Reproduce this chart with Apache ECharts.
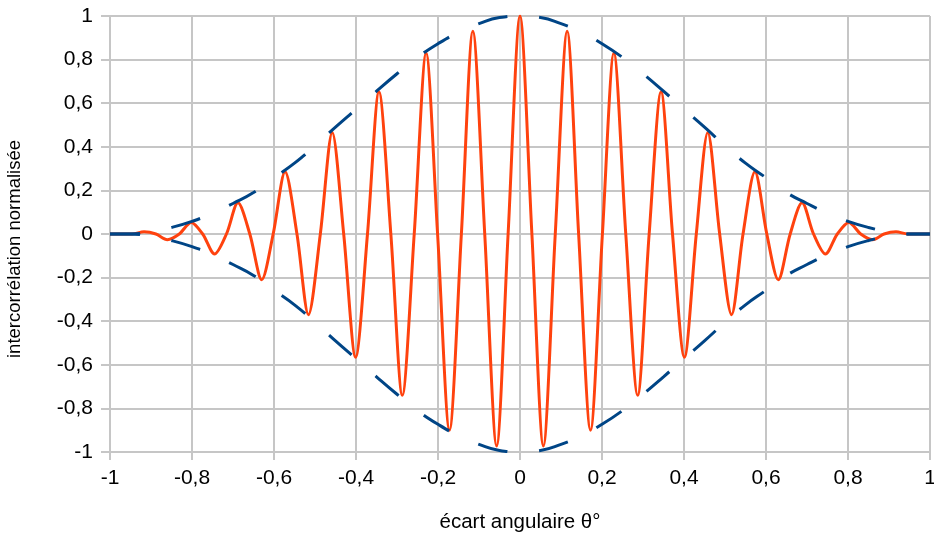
<!DOCTYPE html>
<html>
<head>
<meta charset="utf-8">
<script src="https://cdn.jsdelivr.net/npm/echarts@6/dist/echarts.min.js"></script>
<style>
  html, body { margin: 0; padding: 0; background: #fff; }
  #main { width: 934px; height: 534px; }
</style>
</head>
<body>
<div id="main"></div>
<script>
// intercorrelation (orange): maxima, minima et passages par zero
var waveX = [-1, -0.974, -0.946, -0.917, -0.888, -0.860, -0.831, -0.802, -0.774, -0.745, -0.716,
  -0.688, -0.659, -0.630, -0.602, -0.573, -0.544, -0.516, -0.487, -0.458, -0.430, -0.401,
  -0.372, -0.344, -0.315, -0.287, -0.258, -0.229, -0.201, -0.172, -0.143, -0.115, -0.086,
  -0.057, -0.029, 0, 0.029, 0.057, 0.086, 0.115, 0.143, 0.172, 0.201, 0.229, 0.258, 0.287,
  0.315, 0.344, 0.372, 0.401, 0.430, 0.458, 0.487, 0.516, 0.544, 0.573, 0.602, 0.630, 0.659,
  0.688, 0.716, 0.745, 0.774, 0.802, 0.831, 0.860, 0.888, 0.917, 0.946, 0.974, 1];
var waveY = [0, 0, 0, 0.01, 0, -0.026, 0, 0.053, 0, -0.092, 0,
  0.143, 0, -0.21, 0, 0.285, 0, -0.37, 0, 0.466, 0, -0.565,
  0, 0.652, 0, -0.74, 0, 0.83, 0, -0.9, 0, 0.93, 0,
  -0.972, 0, 1, 0, -0.972, 0, 0.93, 0, -0.9, 0, 0.83, 0, -0.74,
  0, 0.652, 0, -0.565, 0, 0.466, 0, -0.37, 0, 0.285, 0, -0.21, 0,
  0.143, 0, -0.092, 0, 0.053, 0, -0.026, 0, 0.01, 0, 0, 0];

// enveloppe (bleu, tirets)
var envX = [-1, -0.95, -0.9, -0.85, -0.8, -0.75, -0.7, -0.65, -0.6, -0.55, -0.5, -0.45, -0.4,
  -0.35, -0.3, -0.25, -0.2, -0.15, -0.1, -0.05, 0, 0.05, 0.1, 0.15, 0.2, 0.25, 0.3, 0.35,
  0.4, 0.45, 0.5, 0.55, 0.6, 0.65, 0.7, 0.75, 0.8, 0.85, 0.9, 0.95, 1];
var envUpper = [0, 0, 0.01, 0.03, 0.058, 0.095, 0.14, 0.19, 0.258, 0.325, 0.405, 0.49, 0.572,
  0.655, 0.735, 0.81, 0.873, 0.925, 0.965, 0.993, 1, 0.993, 0.965, 0.925, 0.873, 0.81, 0.735, 0.655,
  0.572, 0.49, 0.405, 0.325, 0.258, 0.19, 0.14, 0.095, 0.058, 0.03, 0.01, 0, 0];
var envLower = [0, 0, -0.01, -0.03, -0.058, -0.095, -0.14, -0.19, -0.258, -0.325, -0.405, -0.49, -0.572,
  -0.655, -0.735, -0.81, -0.873, -0.925, -0.965, -0.993, -1, -0.993, -0.965, -0.925, -0.873, -0.81, -0.735, -0.655,
  -0.572, -0.49, -0.405, -0.325, -0.258, -0.19, -0.14, -0.095, -0.058, -0.03, -0.01, 0, 0];

function pairs(xs, ys) {
  var out = [];
  for (var i = 0; i < xs.length; i++) out.push([xs[i], ys[i]]);
  return out;
}
function virgule(v) {
  return String(+v.toFixed(1)).replace('.', ',');
}

var font = 'Liberation Sans, Arial, sans-serif';
var gridColor = '#c6c6c6';

var myChart = echarts.init(document.getElementById('main'));
var option = {
  animation: false,
  backgroundColor: '#fff',
  grid: { left: 110, right: 4, top: 16, bottom: 82, containLabel: false, outerBoundsMode: 'none' },
  xAxis: {
    type: 'value',
    min: -1, max: 1, interval: 0.2,
    name: 'écart angulaire θ°',
    nameLocation: 'middle',
    nameGap: 60,
    nameTextStyle: { color: '#000', fontFamily: font, fontSize: 20.5 },
    axisLine: { show: true, onZero: false, lineStyle: { color: gridColor, width: 2 } },
    axisTick: { show: true, length: 8, lineStyle: { color: gridColor, width: 2 } },
    axisLabel: { formatter: virgule, color: '#000', fontFamily: font, fontSize: 21, margin: 16 },
    splitLine: { show: true, lineStyle: { color: gridColor, width: 2 } }
  },
  yAxis: {
    type: 'value',
    min: -1, max: 1, interval: 0.2,
    name: 'intercorrélation normalisée',
    nameLocation: 'middle',
    nameGap: 86,
    nameTextStyle: { color: '#000', fontFamily: font, fontSize: 18.5, padding: [0, 30, 0, 0] },
    axisLine: { show: true, onZero: false, lineStyle: { color: gridColor, width: 2 } },
    axisTick: { show: true, length: 9, lineStyle: { color: gridColor, width: 2 } },
    axisLabel: { formatter: virgule, color: '#000', fontFamily: font, fontSize: 21, margin: 17 },
    splitLine: { show: true, lineStyle: { color: gridColor, width: 2 } }
  },
  series: [
    {
      name: 'intercorrélation',
      type: 'line',
      data: pairs(waveX, waveY),
      showSymbol: false,
      smooth: 0.3,
      lineStyle: { color: '#ff420e', width: 3 }
    },
    {
      name: 'enveloppe +',
      type: 'line',
      data: pairs(envX, envUpper),
      showSymbol: false,
      smooth: true,
      lineStyle: { color: '#004586', width: 3, type: [30, 32] }
    },
    {
      name: 'enveloppe -',
      type: 'line',
      data: pairs(envX, envLower),
      showSymbol: false,
      smooth: true,
      lineStyle: { color: '#004586', width: 3, type: [30, 32] }
    }
  ]
};
myChart.setOption(option);
</script>
</body>
</html>
